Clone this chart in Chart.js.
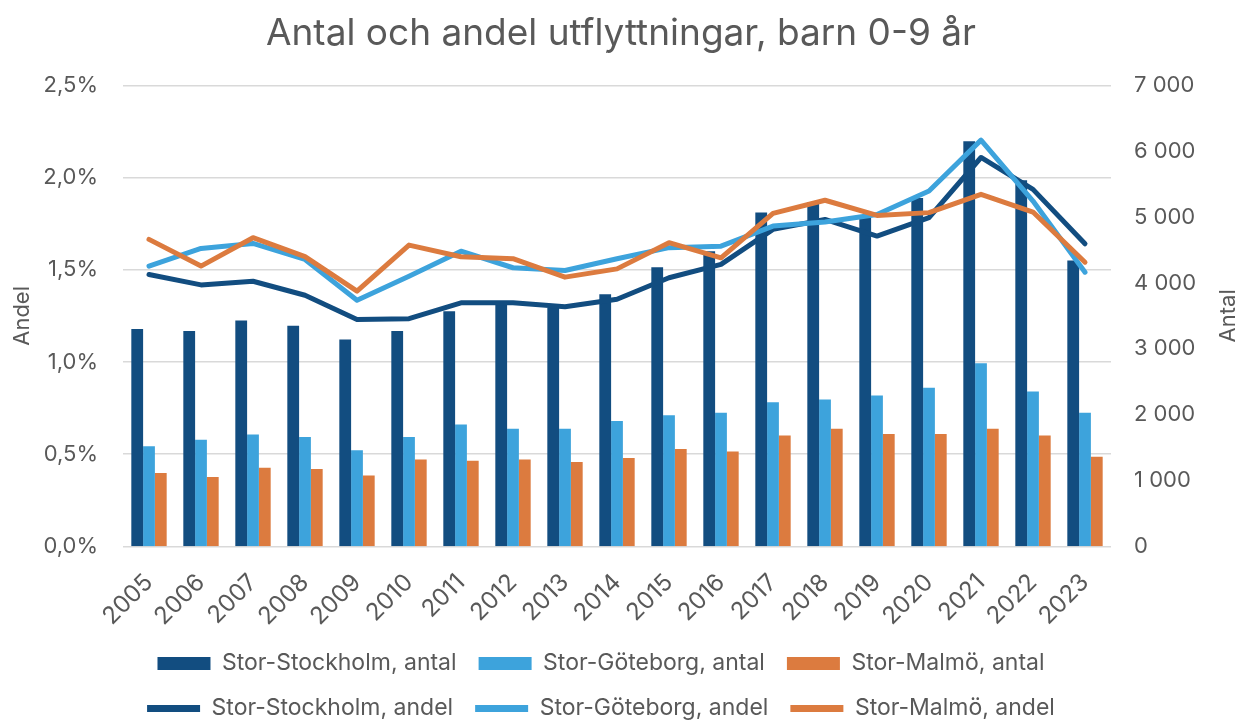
<!DOCTYPE html>
<html>
<head>
<meta charset="utf-8">
<script src="https://cdn.jsdelivr.net/npm/chart.js@4.4.1/dist/chart.umd.min.js"></script>
<style>
  html, body { margin: 0; padding: 0; background: #fff; }
  #wrap { width: 1242px; height: 720px; }
</style>
</head>
<body>
<div id="wrap"><canvas id="flyttChart"></canvas></div>
<script>
const years = ['2005', '2006', '2007', '2008', '2009', '2010', '2011', '2012', '2013', '2014',
  '2015', '2016', '2017', '2018', '2019', '2020', '2021', '2022', '2023'];

// antal (right axis)
const antalStockholm = [3300, 3270, 3430, 3350, 3140, 3270, 3570, 3690, 3620, 3830,
  4240, 4480, 5070, 5230, 4990, 5290, 6150, 5560, 4340];
const antalGoteborg = [1520, 1620, 1700, 1660, 1460, 1660, 1850, 1785, 1785, 1905,
  1990, 2030, 2190, 2230, 2290, 2410, 2780, 2350, 2030];
const antalMalmo = [1115, 1055, 1195, 1175, 1075, 1320, 1300, 1320, 1280, 1340,
  1480, 1440, 1685, 1785, 1705, 1705, 1785, 1685, 1360];

// andel in percent (left axis)
const andelStockholm = [1.474, 1.418, 1.438, 1.362, 1.230, 1.235, 1.321, 1.321, 1.300, 1.340,
  1.457, 1.529, 1.719, 1.773, 1.683, 1.783, 2.109, 1.936, 1.641];
const andelGoteborg = [1.520, 1.616, 1.643, 1.556, 1.335, 1.465, 1.601, 1.511, 1.496, 1.560,
  1.620, 1.628, 1.737, 1.759, 1.800, 1.927, 2.203, 1.873, 1.487];
const andelMalmo = [1.665, 1.520, 1.674, 1.571, 1.384, 1.634, 1.571, 1.560, 1.460, 1.505,
  1.647, 1.565, 1.806, 1.877, 1.795, 1.810, 1.909, 1.813, 1.541];

const navy = '#124D80';
const sky = '#3DA3DC';
const orange = '#DC7B3F';
const textColor = '#595959';
const fontFamily = 'Inter, "Noto Sans", sans-serif';

function barSet(label, data, color) {
  return {
    type: 'bar',
    label,
    data,
    yAxisID: 'yAntal',
    backgroundColor: color,
    borderWidth: 0,
    pointStyle: 'rect',
    order: 10,
    categoryPercentage: 0.68,
    barPercentage: 1.0,
  };
}

function lineSet(label, data, color, order) {
  return {
    type: 'line',
    label,
    data,
    yAxisID: 'yAndel',
    borderColor: color,
    backgroundColor: color,
    borderWidth: 5,
    borderCapStyle: 'round',
    borderJoinStyle: 'round',
    pointRadius: 0,
    pointStyle: 'line',
    tension: 0,
    fill: false,
    order,
  };
}

// right axis title reads bottom-to-top, like the left one
const rightTitle = {
  id: 'rightTitle',
  afterLayout(chart) {
    // legend sits a bit left of centre in the original
    chart.legend.left -= 20;
    chart.legend.right -= 20;
  },
  afterDraw(chart) {
    const scale = chart.scales.yAntal;
    const c = chart.ctx;
    c.save();
    c.translate(chart.width - 14, (scale.top + scale.bottom) / 2);
    c.rotate(-Math.PI / 2);
    c.fillStyle = textColor;
    c.font = `22px ${fontFamily}`;
    c.textAlign = 'center';
    c.textBaseline = 'middle';
    c.fillText('Antal', 0, 0);
    c.restore();
  },
};

Chart.defaults.font.family = fontFamily;
Chart.defaults.color = textColor;

const ctx = document.getElementById('flyttChart').getContext('2d');

new Chart(ctx, {
  data: {
    labels: years,
    datasets: [
      barSet('Stor-Stockholm, antal', antalStockholm, navy),
      barSet('Stor-Göteborg, antal', antalGoteborg, sky),
      barSet('Stor-Malmö, antal', antalMalmo, orange),
      lineSet('Stor-Stockholm, andel', andelStockholm, navy, 3),
      lineSet('Stor-Göteborg, andel', andelGoteborg, sky, 2),
      lineSet('Stor-Malmö, andel', andelMalmo, orange, 1),
    ],
  },
  plugins: [rightTitle],
  options: {
    responsive: true,
    maintainAspectRatio: false,
    animation: false,
    layout: {
      padding: { left: 0, right: 0, top: 10, bottom: -10 },
    },
    plugins: {
      title: {
        display: true,
        text: 'Antal och andel utflyttningar, barn 0-9 år',
        color: textColor,
        font: { size: 37, weight: 'normal' },
        padding: { top: 2, bottom: 29 },
      },
      tooltip: { enabled: false },
      legend: {
        position: 'bottom',
        labels: {
          usePointStyle: true,
          pointStyleWidth: 53,
          boxHeight: 13,
          padding: 22,
          color: textColor,
          font: { size: 23 },
          sort: (a, b) => a.datasetIndex - b.datasetIndex,
          generateLabels: (chart) => {
            const items = Chart.defaults.plugins.legend.labels.generateLabels(chart);
            items.forEach((item) => {
              const ds = chart.data.datasets[item.datasetIndex];
              if (ds.type === 'line') {
                item.lineWidth = 7;
                item.strokeStyle = ds.borderColor;
              } else {
                item.lineWidth = 0;
              }
            });
            return items;
          },
        },
      },
    },
    scales: {
      x: {
        grid: { display: false },
        border: { display: false },
        afterFit: (scale) => { scale.height -= 15; },
        ticks: {
          color: textColor,
          font: { size: 24 },
          maxRotation: 45,
          minRotation: 45,
          padding: 14,
        },
      },
      yAndel: {
        position: 'left',
        min: 0,
        max: 2.5,
        border: { display: false },
        grid: { color: '#D9D9D9', lineWidth: 1.5, drawTicks: false },
        afterFit: (scale) => { scale.width = 123; },
        ticks: {
          stepSize: 0.5,
          padding: 25,
          color: textColor,
          font: { size: 22 },
          callback: (value) => `${value.toFixed(1).replace('.', ',')}%`,
        },
        title: {
          display: true,
          text: 'Andel',
          color: textColor,
          font: { size: 22 },
          padding: { top: 9, bottom: 2 },
        },
      },
      yAntal: {
        position: 'right',
        min: 0,
        max: 7000,
        border: { display: false },
        grid: { display: false, drawTicks: false },
        afterFit: (scale) => { scale.width = 131; },
        ticks: {
          stepSize: 1000,
          padding: 23,
          color: textColor,
          font: { size: 22 },
          callback: (value) => String(value).replace(/\B(?=(\d{3})+(?!\d))/g, ' '),
        },
      },
    },
  },
});
</script>
</body>
</html>
